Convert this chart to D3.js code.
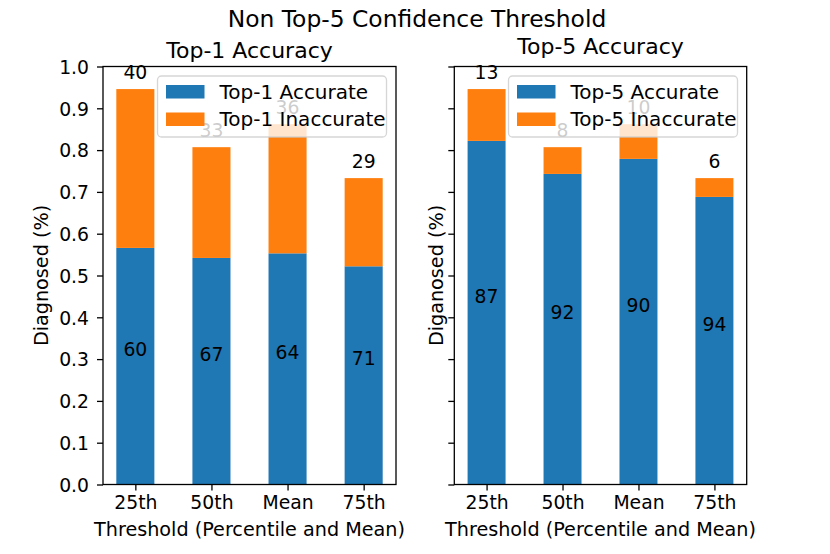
<!DOCTYPE html>
<html>
<head>
<meta charset="utf-8">
<script src="https://cdn.jsdelivr.net/npm/d3@7"></script>
<style>
  body { margin: 0; background: #fff; }
  svg { font-family: "DejaVu Sans", sans-serif; }
</style>
</head>
<body>
<svg width="830" height="554"></svg>
<script>
const categories = ["25th", "50th", "Mean", "75th"];
const yTicks = [0, 0.1, 0.2, 0.3, 0.4, 0.5, 0.6, 0.7, 0.8, 0.9, 1.0];

// Top-1 panel
const top1Accurate = [0.566, 0.542, 0.553, 0.522];
const top1Inaccurate = [0.380, 0.265, 0.309, 0.211];
const top1AccLabels = [60, 67, 64, 71];
const top1InaccLabels = [40, 33, 36, 29];

// Top-5 panel
const top5Accurate = [0.822, 0.743, 0.779, 0.688];
const top5Inaccurate = [0.124, 0.064, 0.083, 0.045];
const top5AccLabels = [87, 92, 90, 94];
const top5InaccLabels = [13, 8, 10, 6];

const blue = "#1f77b4";
const orange = "#ff7f0e";

let svg = d3.select("svg");

let plotTop = 66.5;
let plotBottom = 484.5;

let yScale = d3.scaleLinear().domain([0, 1]).range([plotBottom, plotTop]);

svg.append("text")
    .attr("x", 417)
    .attr("y", 27)
    .attr("text-anchor", "middle")
    .attr("font-size", 23.4)
    .text("Non Top-5 Confidence Threshold");

let drawPanel = (left, right, cfg) => {
    let g = svg.append("g");
    let xScale = d3.scalePoint()
        .domain(categories)
        .range([left, right])
        .padding(0.425);
    let bw = xScale.step() * 0.5;

    // bars
    g.selectAll(".acc")
        .data(categories)
        .enter()
        .append("rect")
        .attr("x", (c) => xScale(c) - bw / 2)
        .attr("width", bw)
        .attr("y", (c, i) => yScale(cfg.acc[i]))
        .attr("height", (c, i) => yScale(0) - yScale(cfg.acc[i]))
        .attr("fill", blue);

    g.selectAll(".inacc")
        .data(categories)
        .enter()
        .append("rect")
        .attr("x", (c) => xScale(c) - bw / 2)
        .attr("width", bw)
        .attr("y", (c, i) => yScale(cfg.acc[i] + cfg.inacc[i]))
        .attr("height", (c, i) => yScale(cfg.acc[i]) - yScale(cfg.acc[i] + cfg.inacc[i]))
        .attr("fill", orange);

    // value labels
    g.selectAll(".accLabel")
        .data(categories)
        .enter()
        .append("text")
        .attr("x", (c) => xScale(c))
        .attr("y", (c, i) => yScale(cfg.acc[i] / 2) - 10)
        .attr("text-anchor", "middle")
        .attr("font-size", 18.8)
        .text((c, i) => cfg.accLabels[i]);

    g.selectAll(".inaccLabel")
        .data(categories)
        .enter()
        .append("text")
        .attr("x", (c) => xScale(c))
        .attr("y", (c, i) => yScale(cfg.acc[i] + cfg.inacc[i]) - 10)
        .attr("text-anchor", "middle")
        .attr("font-size", 18.8)
        .text((c, i) => cfg.inaccLabels[i]);

    // axes
    let xAxis = d3.axisBottom(xScale).tickSize(6).tickSizeOuter(0).tickPadding(5);
    let xg = g.append("g")
        .attr("transform", "translate(0," + plotBottom + ")")
        .call(xAxis);
    xg.select(".domain").remove();
    xg.selectAll("line").attr("stroke-width", 1.3);
    xg.selectAll("text")
        .attr("font-size", 18.8)
        .attr("font-family", "DejaVu Sans")
        .attr("fill", "#000");

    let yAxis = d3.axisLeft(yScale).tickValues(yTicks).tickSize(6).tickSizeOuter(0)
        .tickPadding(8)
        .tickFormat(cfg.showY ? d3.format(".1f") : "");
    let yg = g.append("g")
        .attr("transform", "translate(" + left + ",0)")
        .call(yAxis);
    yg.select(".domain").remove();
    yg.selectAll("line").attr("stroke-width", 1.3);
    yg.selectAll("text")
        .attr("font-size", 18.8)
        .attr("font-family", "DejaVu Sans")
        .attr("fill", "#000")
        .attr("dy", "0.36em");

    g.append("rect")
        .attr("x", left)
        .attr("y", plotTop)
        .attr("width", right - left)
        .attr("height", plotBottom - plotTop)
        .attr("fill", "none")
        .attr("stroke", "#000")
        .attr("stroke-width", 1.3);

    // titles
    g.append("text")
        .attr("x", (left + right) / 2)
        .attr("y", cfg.titleY)
        .attr("text-anchor", "middle")
        .attr("font-size", 22)
        .text(cfg.title);

    g.append("text")
        .attr("transform", "translate(" + cfg.yLabelX + "," + ((plotTop + plotBottom) / 2) + ") rotate(-90)")
        .attr("text-anchor", "middle")
        .attr("font-size", 19.2)
        .text(cfg.yLabel);

    g.append("text")
        .attr("x", (left + right) / 2)
        .attr("y", 536)
        .attr("text-anchor", "middle")
        .attr("font-size", 19.2)
        .text("Threshold (Percentile and Mean)");

    // legend
    let lx = cfg.legendX;
    let lg = g.append("g");
    lg.append("rect")
        .attr("x", lx)
        .attr("y", 76)
        .attr("width", 229)
        .attr("height", 61)
        .attr("rx", 4)
        .attr("fill", "#fff")
        .attr("fill-opacity", 0.8)
        .attr("stroke", "#ccc")
        .attr("stroke-opacity", 0.8)
        .attr("stroke-width", 1.3);
    let items = [[blue, cfg.legend[0], 85], [orange, cfg.legend[1], 112.5]];
    items.forEach((it) => {
        lg.append("rect")
            .attr("x", lx + 8.5)
            .attr("y", it[2])
            .attr("width", 38.5)
            .attr("height", 13.5)
            .attr("fill", it[0]);
        lg.append("text")
            .attr("x", lx + 62)
            .attr("y", it[2] + 13.5)
            .attr("font-size", 20)
            .text(it[1]);
    });
};

drawPanel(103, 396, {
    acc: top1Accurate,
    inacc: top1Inaccurate,
    accLabels: top1AccLabels,
    inaccLabels: top1InaccLabels,
    showY: true,
    title: "Top-1 Accuracy",
    titleY: 58,
    yLabel: "Diagnosed (%)",
    yLabelX: 48,
    legendX: 157.5,
    legend: ["Top-1 Accurate", "Top-1 Inaccurate"]
});

drawPanel(454.3, 746.7, {
    acc: top5Accurate,
    inacc: top5Inaccurate,
    accLabels: top5AccLabels,
    inaccLabels: top5InaccLabels,
    showY: false,
    title: "Top-5 Accuracy",
    titleY: 54,
    yLabel: "Diganosed (%)",
    yLabelX: 443,
    legendX: 508.5,
    legend: ["Top-5 Accurate", "Top-5 Inaccurate"]
});
</script>
</body>
</html>
